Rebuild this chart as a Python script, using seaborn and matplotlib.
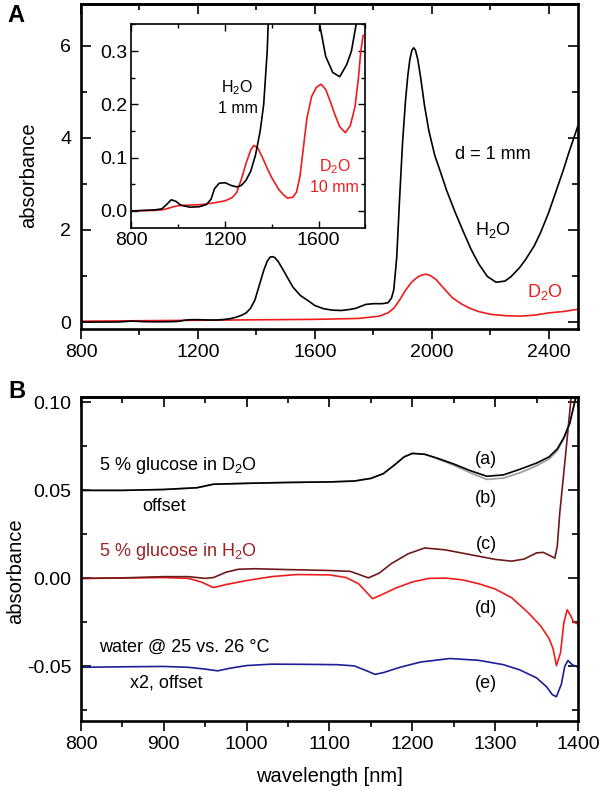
import matplotlib
matplotlib.use('Agg')
import matplotlib.pyplot as plt
from matplotlib.ticker import MultipleLocator, FormatStrFormatter
import seaborn as sns

# ---- panel A: water spectra (1 mm), also used in the inset ----
h2o_wl = [800, 900, 930, 950, 970, 990, 1010, 1050, 1090, 1120, 1140, 1155, 1175, 1200,
          1225, 1250, 1270, 1290, 1310, 1330, 1350, 1365, 1380, 1395, 1410, 1425, 1437,
          1447, 1455, 1463, 1475, 1490, 1505, 1525, 1550, 1580, 1600, 1630, 1660, 1690,
          1720, 1740, 1760, 1775, 1800, 1830, 1850, 1862, 1870, 1880, 1890, 1900, 1910,
          1918, 1925, 1932, 1938, 1944, 1952, 1962, 1975, 1990, 2010, 2030, 2050, 2080,
          2110, 2135, 2160, 2190, 2220, 2250, 2270, 2300, 2320, 2350, 2372, 2400, 2424,
          2450, 2470, 2500]
h2o_abs = [0.000, 0.002, 0.004, 0.012, 0.021, 0.018, 0.011, 0.007, 0.008, 0.012, 0.022,
           0.042, 0.052, 0.053, 0.048, 0.045, 0.048, 0.058, 0.075, 0.105, 0.150, 0.200,
           0.300, 0.480, 0.800, 1.120, 1.320, 1.410, 1.420, 1.400, 1.310, 1.150, 0.980,
           0.760, 0.580, 0.450, 0.360, 0.290, 0.260, 0.252, 0.275, 0.300, 0.350, 0.385,
           0.400, 0.400, 0.420, 0.520, 0.700, 1.400, 2.700, 3.900, 4.800, 5.350, 5.700,
           5.900, 5.950, 5.900, 5.700, 5.300, 4.700, 4.150, 3.620, 3.250, 2.870, 2.380,
           1.930, 1.570, 1.270, 0.990, 0.865, 0.890, 0.980, 1.180, 1.350, 1.650, 1.940,
           2.380, 2.820, 3.300, 3.700, 4.260]

d2o_wl = [800, 1000, 1200, 1400, 1600, 1750, 1820, 1850, 1870, 1890, 1910, 1930, 1950,
          1965, 1980, 1995, 2015, 2040, 2070, 2100, 2130, 2160, 2200, 2250, 2300, 2350,
          2400, 2450, 2500]
d2o_abs = [0.02, 0.03, 0.04, 0.05, 0.06, 0.08, 0.13, 0.20, 0.30, 0.48, 0.69, 0.86, 0.97,
           1.02, 1.04, 1.01, 0.92, 0.74, 0.53, 0.40, 0.30, 0.23, 0.17, 0.14, 0.13, 0.15,
           0.20, 0.23, 0.28]

# D2O, 10 mm (inset)
d2o10_wl = [800, 900, 930, 950, 980, 1000, 1050, 1100, 1150, 1200, 1230, 1250, 1270,
            1290, 1310, 1323, 1340, 1360, 1380, 1400, 1430, 1450, 1467, 1490, 1505, 1520,
            1535, 1550, 1570, 1590, 1610, 1630, 1650, 1670, 1690, 1714, 1735, 1755, 1770,
            1780, 1790]
d2o10_abs = [0.000, 0.001, 0.002, 0.004, 0.008, 0.010, 0.011, 0.012, 0.015, 0.019, 0.025,
             0.035, 0.060, 0.090, 0.115, 0.123, 0.118, 0.100, 0.080, 0.062, 0.040, 0.030,
             0.024, 0.026, 0.035, 0.065, 0.120, 0.175, 0.215, 0.232, 0.238, 0.228, 0.205,
             0.180, 0.158, 0.147, 0.160, 0.195, 0.250, 0.300, 0.330]

# ---- panel B: difference spectra ----
a_wl = [800, 850, 900, 940, 960, 1000, 1050, 1100, 1130, 1150, 1165, 1180, 1190, 1200,
        1215, 1230, 1250, 1270, 1290, 1310, 1330, 1350, 1365, 1375, 1383, 1390, 1395, 1400]
a_abs = [0.0500, 0.0500, 0.0505, 0.0515, 0.0535, 0.0540, 0.0545, 0.0548, 0.0553, 0.0568,
         0.0595, 0.0650, 0.0690, 0.0710, 0.0705, 0.0683, 0.0650, 0.0612, 0.0580, 0.0588,
         0.0620, 0.0655, 0.0690, 0.0735, 0.0800, 0.0880, 0.0980, 0.1080]
b_wl = [800, 850, 900, 940, 960, 1000, 1050, 1100, 1130, 1150, 1165, 1180, 1190, 1200,
        1215, 1230, 1250, 1270, 1290, 1310, 1330, 1350, 1365, 1375, 1383, 1390, 1395, 1400]
b_abs = [0.0500, 0.0500, 0.0505, 0.0515, 0.0535, 0.0540, 0.0545, 0.0548, 0.0553, 0.0568,
         0.0595, 0.0650, 0.0690, 0.0710, 0.0705, 0.0680, 0.0643, 0.0600, 0.0562, 0.0570,
         0.0600, 0.0640, 0.0678, 0.0725, 0.0795, 0.0880, 0.0980, 0.1080]
c_wl = [800, 850, 900, 930, 950, 960, 975, 990, 1010, 1050, 1100, 1125, 1140, 1147, 1160,
        1175, 1195, 1215, 1240, 1270, 1300, 1320, 1335, 1350, 1358, 1366, 1372, 1375, 1378,
        1385, 1392, 1396]
c_abs = [0.0000, 0.0003, 0.0010, 0.0010, 0.0000, 0.0005, 0.0035, 0.0052, 0.0055, 0.0050,
         0.0045, 0.0040, 0.0015, 0.0003, 0.0030, 0.0085, 0.0140, 0.0173, 0.0162, 0.0135,
         0.0108, 0.0098, 0.0110, 0.0145, 0.0148, 0.0130, 0.0115, 0.0180, 0.0370, 0.0700,
         0.1040, 0.1120]
d_wl = [800, 850, 900, 930, 945, 960, 975, 1000, 1030, 1060, 1100, 1120, 1135, 1145, 1152,
        1162, 1180, 1200, 1220, 1240, 1260, 1280, 1300, 1320, 1340, 1355, 1365, 1370, 1374,
        1379, 1383, 1387, 1391, 1395, 1400]
d_abs = [0.0000, 0.0002, 0.0005, 0.0000, -0.0020, -0.0052, -0.0035, -0.0012, 0.0010,
         0.0022, 0.0020, 0.0005, -0.0030, -0.0080, -0.0115, -0.0095, -0.0055, -0.0020,
         0.0000, 0.0002, -0.0008, -0.0030, -0.0060, -0.0110, -0.0195, -0.0270, -0.0340,
         -0.0400, -0.0495, -0.0420, -0.0250, -0.0178, -0.0210, -0.0250, -0.0258]
e_wl = [800, 850, 900, 930, 950, 965, 980, 1000, 1030, 1070, 1110, 1130, 1145, 1155, 1165,
        1185, 1210, 1245, 1280, 1310, 1330, 1350, 1362, 1369, 1374, 1380, 1384, 1388, 1393,
        1400]
e_abs = [-0.0505, -0.0502, -0.0500, -0.0505, -0.0515, -0.0525, -0.0510, -0.0495, -0.0487,
         -0.0488, -0.0490, -0.0497, -0.0525, -0.0545, -0.0535, -0.0505, -0.0475, -0.0455,
         -0.0465, -0.0490, -0.0520, -0.0565, -0.0615, -0.0660, -0.0672, -0.0600, -0.0500,
         -0.0466, -0.0490, -0.0505]

RED = '#ee1c1c'
MAROON = '#6e1a1a'
BLUE = '#1e1e96'
GRAY = '#9a9a9a'

sns.set_style('ticks')
plt.rcParams['font.family'] = ['Liberation Sans', 'DejaVu Sans']
plt.rcParams['mathtext.fontset'] = 'custom'
plt.rcParams['mathtext.rm'] = 'Liberation Sans'
plt.rcParams['mathtext.it'] = 'Liberation Sans:italic'
plt.rcParams['mathtext.bf'] = 'Liberation Sans:bold'
plt.rcParams['axes.unicode_minus'] = False
for k in ['text.color', 'axes.labelcolor', 'xtick.color', 'ytick.color', 'axes.edgecolor']:
    plt.rcParams[k] = 'black'

H2O = 'H$_\\mathregular{2}$O'
D2O = 'D$_\\mathregular{2}$O'


def line(ax, x, y, color, lw=1.2):
    sns.lineplot(x=x, y=y, ax=ax, color=color, linewidth=lw, estimator=None, sort=False)


def frame(ax, xmaj, xmin, ymaj, ymin, lw=1.9):
    ax.xaxis.set_major_locator(MultipleLocator(xmaj))
    ax.xaxis.set_minor_locator(MultipleLocator(xmin))
    ax.yaxis.set_major_locator(MultipleLocator(ymaj))
    ax.yaxis.set_minor_locator(MultipleLocator(ymin))
    for s in ax.spines.values():
        s.set_visible(True)
        s.set_linewidth(lw)
    ax.tick_params(axis='x', which='both', direction='out', top=False, width=1.2,
                   labelsize=14, pad=4)
    ax.tick_params(axis='x', which='major', length=7)
    ax.tick_params(axis='x', which='minor', length=4)
    ax.tick_params(axis='y', which='both', direction='in', right=True, width=1.2,
                   labelsize=14, pad=7)
    ax.tick_params(axis='y', which='major', length=7)
    ax.tick_params(axis='y', which='minor', length=4)
    top = ax.secondary_xaxis('top')
    top.xaxis.set_major_locator(MultipleLocator(xmaj))
    top.xaxis.set_minor_locator(MultipleLocator(xmin))
    top.tick_params(which='both', direction='in', labeltop=False, width=1.2)
    top.tick_params(which='major', length=7)
    top.tick_params(which='minor', length=4)
    top.spines['top'].set_linewidth(lw)


fig = plt.figure(figsize=(6.04, 7.90), dpi=100)

# ---- panel A ----
axA = fig.add_axes([0.1341, 0.5835, 0.8228, 0.4114])
line(axA, d2o_wl, d2o_abs, RED)
line(axA, h2o_wl, h2o_abs, 'black')
axA.set_xlim(800, 2500)
axA.set_ylim(-0.15, 6.9)
frame(axA, 400, 200, 2, 1)
axA.set_xlabel('')
axA.set_ylabel('absorbance', fontsize=14.5)
axA.yaxis.set_label_coords(-0.105, 0.472)
axA.yaxis.label.set_va('center')
axA.text(2210, 3.64, 'd = 1 mm', fontsize=13, ha='center', va='center')
axA.text(2210, 1.99, H2O, fontsize=13, ha='center', va='center')
axA.text(2388, 0.66, D2O, fontsize=13, ha='center', va='center', color=RED)

# inset
axI = fig.add_axes([0.2177, 0.7114, 0.3874, 0.2576])
line(axI, d2o10_wl, d2o10_abs, RED)
line(axI, h2o_wl, h2o_abs, 'black')
axI.set_xlim(800, 1800)
axI.set_ylim(-0.032, 0.35)
axI.xaxis.set_major_locator(MultipleLocator(400))
axI.xaxis.set_minor_locator(MultipleLocator(200))
axI.yaxis.set_major_locator(MultipleLocator(0.1))
axI.yaxis.set_minor_locator(MultipleLocator(0.05))
axI.yaxis.set_major_formatter(FormatStrFormatter('%.1f'))
for s in axI.spines.values():
    s.set_visible(True)
    s.set_linewidth(1.2)
axI.tick_params(which='both', direction='in', top=True, right=True, width=1.0,
                labelsize=14)
axI.tick_params(which='major', length=5)
axI.tick_params(which='minor', length=3)
axI.tick_params(axis='x', pad=3)
axI.tick_params(axis='y', pad=3)
axI.text(1253, 0.231, H2O, fontsize=11.5, ha='center', va='center')
axI.text(1253, 0.193, '1 mm', fontsize=11.5, ha='center', va='center')
axI.text(1669, 0.083, D2O, fontsize=11.5, ha='center', va='center', color=RED)
axI.text(1669, 0.044, '10 mm', fontsize=11.5, ha='center', va='center', color=RED)

# ---- panel B ----
axB = fig.add_axes([0.1341, 0.0873, 0.8228, 0.4101])
line(axB, e_wl, e_abs, BLUE)
line(axB, d_wl, d_abs, RED)
line(axB, c_wl, c_abs, MAROON)
line(axB, b_wl, b_abs, GRAY)
line(axB, a_wl, a_abs, 'black')
axB.set_xlim(800, 1400)
axB.set_ylim(-0.081, 0.103)
frame(axB, 100, 50, 0.05, 0.025)
axB.yaxis.set_major_formatter(FormatStrFormatter('%.2f'))
axB.set_ylabel('absorbance', fontsize=14.5)
axB.yaxis.set_label_coords(-0.132, 0.464)
axB.yaxis.label.set_va('center')
axB.set_xlabel('wavelength [nm]', fontsize=14.5)
axB.xaxis.set_label_coords(0.5, -0.17)
axB.xaxis.label.set_va('center')

axB.text(822, 0.064, '5 % glucose in ' + D2O, fontsize=13, va='center')
axB.text(874, 0.0408, 'offset', fontsize=13, va='center')
axB.text(822, 0.0154, '5 % glucose in ' + H2O, fontsize=13, va='center', color='#9a2424')
axB.text(822, -0.0394, 'water @ 25 vs. 26 °C', fontsize=13, va='center')
axB.text(859, -0.0596, 'x2, offset', fontsize=13, va='center')
for lab, yv in [('(a)', 0.0677), ('(b)', 0.0452), ('(c)', 0.0192),
                ('(d)', -0.0169), ('(e)', -0.0596)]:
    axB.text(1289, yv, lab, fontsize=13, ha='center', va='center')

fig.text(7 / 604, 1 - 15 / 790, 'A', fontsize=17, fontweight='bold', va='center')
fig.text(8 / 604, 1 - 392 / 790, 'B', fontsize=17, fontweight='bold', va='center')

fig.savefig('out.png', dpi=100)
